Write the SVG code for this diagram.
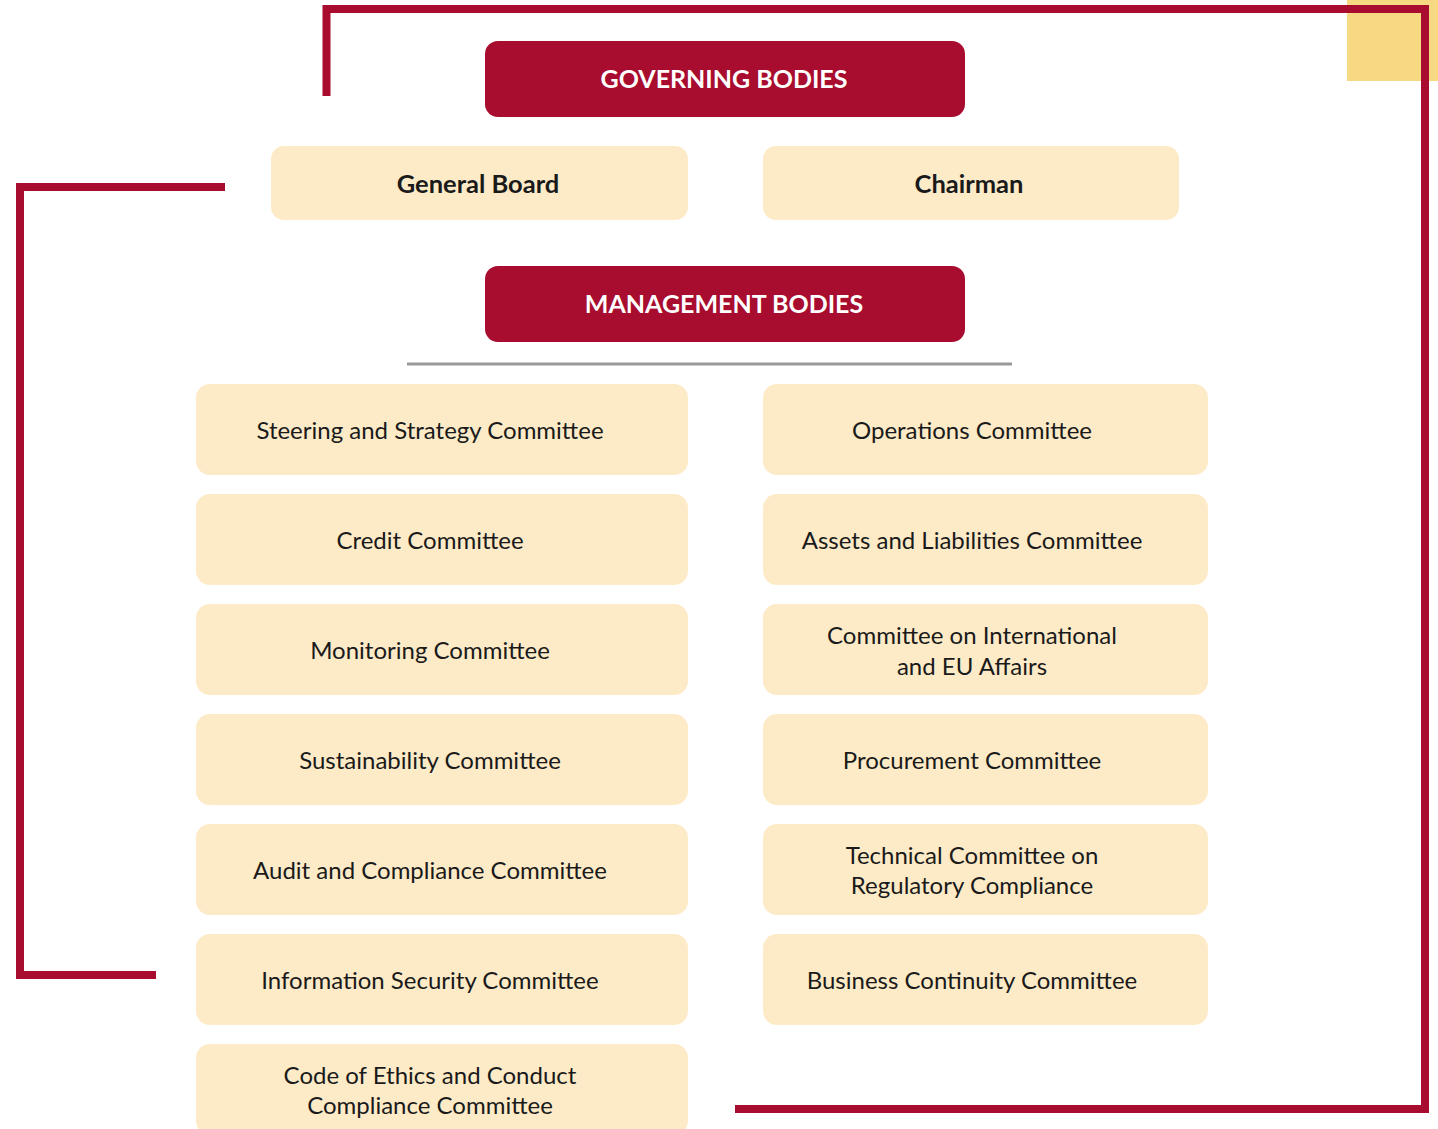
<svg xmlns="http://www.w3.org/2000/svg" width="1438" height="1129" viewBox="0 0 1438 1129">
  <style>
    .hdr { fill: #A80C2E; }
    .box { fill: #FDEBC8; }
    .frame { fill: none; stroke: #A80C2E; stroke-width: 8; stroke-linejoin: miter; stroke-linecap: butt; }
    .t { font-family: Lato, "Open Sans", "Liberation Sans", sans-serif; font-size: 24px; fill: #1a1a1a; text-anchor: middle; dominant-baseline: central; }
    .tb { font-weight: bold; font-size: 25.5px; }
    .th { font-family: Lato, "Open Sans", "Liberation Sans", sans-serif; font-size: 25px; font-weight: bold; fill: #ffffff; text-anchor: middle; dominant-baseline: central; }
  </style>

  <rect width="1438" height="1129" fill="#ffffff"/>

  <!-- corner accent -->
  <rect x="1347" y="0" width="91" height="81" fill="#F8D983"/>

  <!-- decorative frame lines -->
  <g id="connectors">
    <path class="frame" d="M326.5 96 V9 H1425 V1109 H735"/>
    <path class="frame" d="M225 187 H20 V975 H156"/>
    <line x1="407" y1="364" x2="1012" y2="364" stroke="#9a9a9a" stroke-width="3"/>
  </g>

  <!-- governing bodies -->
  <g id="governing-bodies">
    <rect class="hdr" x="485" y="41" width="480" height="76" rx="13"/>
    <text class="th" x="724" y="78">GOVERNING BODIES</text>
  </g>
  <g id="general-board">
    <rect class="box" x="271" y="146" width="417" height="74" rx="13"/>
    <text class="t tb" x="478" y="183">General Board</text>
  </g>
  <g id="chairman">
    <rect class="box" x="763" y="146" width="416" height="74" rx="13"/>
    <text class="t tb" x="969" y="183">Chairman</text>
  </g>

  <!-- management bodies -->
  <g id="management-bodies">
    <rect class="hdr" x="485" y="266" width="480" height="76" rx="13"/>
    <text class="th" x="724" y="303">MANAGEMENT BODIES</text>
  </g>

  <!-- left column -->
  <g id="steering">
    <rect class="box" x="196" y="384" width="492" height="91" rx="14"/>
    <text class="t" x="430" y="429">Steering and Strategy Committee</text>
  </g>
  <g id="credit">
    <rect class="box" x="196" y="494" width="492" height="91" rx="14"/>
    <text class="t" x="430" y="539">Credit Committee</text>
  </g>
  <g id="monitoring">
    <rect class="box" x="196" y="604" width="492" height="91" rx="14"/>
    <text class="t" x="430" y="649">Monitoring Committee</text>
  </g>
  <g id="sustainability">
    <rect class="box" x="196" y="714" width="492" height="91" rx="14"/>
    <text class="t" x="430" y="759">Sustainability Committee</text>
  </g>
  <g id="audit">
    <rect class="box" x="196" y="824" width="492" height="91" rx="14"/>
    <text class="t" x="430" y="869">Audit and Compliance Committee</text>
  </g>
  <g id="infosec">
    <rect class="box" x="196" y="934" width="492" height="91" rx="14"/>
    <text class="t" x="430" y="979">Information Security Committee</text>
  </g>
  <g id="ethics">
    <rect class="box" x="196" y="1044" width="492" height="91" rx="14"/>
    <text class="t" x="430" y="1074">Code of Ethics and Conduct</text>
    <text class="t" x="430" y="1104">Compliance Committee</text>
  </g>

  <!-- right column -->
  <g id="operations">
    <rect class="box" x="763" y="384" width="445" height="91" rx="14"/>
    <text class="t" x="972" y="429">Operations Committee</text>
  </g>
  <g id="alco">
    <rect class="box" x="763" y="494" width="445" height="91" rx="14"/>
    <text class="t" x="972" y="539">Assets and Liabilities Committee</text>
  </g>
  <g id="international">
    <rect class="box" x="763" y="604" width="445" height="91" rx="14"/>
    <text class="t" x="972" y="634">Committee on International</text>
    <text class="t" x="972" y="665">and EU Affairs</text>
  </g>
  <g id="procurement">
    <rect class="box" x="763" y="714" width="445" height="91" rx="14"/>
    <text class="t" x="972" y="759">Procurement Committee</text>
  </g>
  <g id="regulatory">
    <rect class="box" x="763" y="824" width="445" height="91" rx="14"/>
    <text class="t" x="972" y="854">Technical Committee on</text>
    <text class="t" x="972" y="884">Regulatory Compliance</text>
  </g>
  <g id="continuity">
    <rect class="box" x="763" y="934" width="445" height="91" rx="14"/>
    <text class="t" x="972" y="979">Business Continuity Committee</text>
  </g>
</svg>
